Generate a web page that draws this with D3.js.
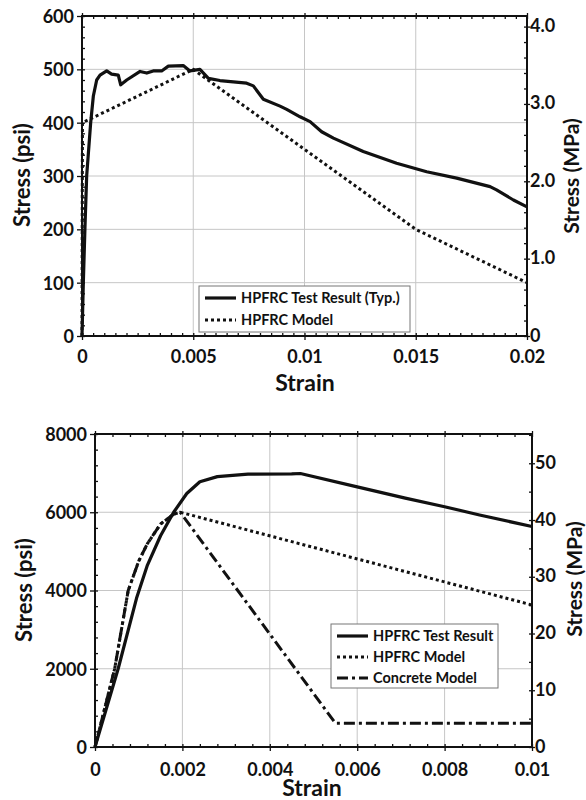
<!DOCTYPE html>
<html>
<head>
<style>
  body { margin: 0; background: #fff; }
  svg text { font-family: Lato, "Open Sans", sans-serif; font-weight: 700; fill: #111; }
  .tick text { font-size: 18px; }
  .axis line { stroke: #111; stroke-width: 1.3; }
  .grid line { stroke: #c6c6c6; stroke-width: 1; }
  .legend text { font-size: 14.5px; font-weight: 700; }
  .title { font-size: 22px; text-anchor: middle; }
</style>
<script src="https://d3js.org/d3.v7.min.js"></script>
</head>
<body>
<svg width="586" height="800"></svg>
<script>
var PSI_TO_MPA = 0.0068948;

// ---- top chart (tension) ----
var topTestStrain = [0, 0.00006, 0.00013, 0.00021, 0.00039, 0.00051, 0.00066, 0.00081, 0.00111, 0.00133,
  0.00163, 0.00174, 0.00201, 0.00261, 0.00291, 0.0032, 0.00358, 0.00388, 0.00455, 0.00485, 0.0053,
  0.00568, 0.0062, 0.0074, 0.0077, 0.00815, 0.0089, 0.0092, 0.0098, 0.01025, 0.01077, 0.0113, 0.01264,
  0.01414, 0.01549, 0.01684, 0.01834, 0.01863, 0.01939, 0.02];
var topTestStress = [0, 100, 200, 300, 400, 450, 480, 489, 497, 491,
  489, 471, 480, 496, 493, 497, 497, 506, 507, 497, 500,
  483, 479, 474, 469, 444, 431, 425, 411, 402, 383, 371, 346,
  324, 308, 296, 280, 274, 255, 242];
var topModelStrain = [0, 0.00002, 0.005, 0.015, 0.02];
var topModelStress = [0, 400, 500, 200, 100];
var topXTicks = [0, 0.005, 0.01, 0.015, 0.02];
var topXTickLabels = ["0", "0.005", "0.01", "0.015", "0.02"];
var topYTicks = [0, 100, 200, 300, 400, 500, 600];
var topYTickLabels = ["0", "100", "200", "300", "400", "500", "600"];
var topMpaTicks = [0, 1, 2, 3, 4];
var topMpaTickLabels = ["0", "1.0", "2.0", "3.0", "4.0"];
var topLegend = ["HPFRC Test Result (Typ.)", "HPFRC Model"];

// ---- bottom chart (compression) ----
var botTestStrain = [0, 0.00053, 0.00095, 0.0012, 0.0015, 0.0018, 0.0021, 0.0024, 0.0028, 0.0035,
  0.0045, 0.0047, 0.006, 0.0071, 0.008, 0.0088, 0.01];
var botTestStress = [0, 2000, 3800, 4650, 5400, 6000, 6480, 6780, 6910, 6975,
  6980, 6990, 6650, 6360, 6140, 5930, 5635];
var botModelStrain = [0, 0.00045, 0.00076, 0.001, 0.0012, 0.0015, 0.0018, 0.00195, 0.01];
var botModelStress = [0, 2000, 4000, 4750, 5200, 5700, 5950, 6000, 3630];
var concreteStrain = [0, 0.00045, 0.00076, 0.001, 0.0012, 0.0015, 0.0018, 0.00195, 0.0055, 0.01];
var concreteStress = [0, 2000, 4000, 4750, 5200, 5700, 5950, 6000, 610, 610];
var botXTicks = [0, 0.002, 0.004, 0.006, 0.008, 0.01];
var botXTickLabels = ["0", "0.002", "0.004", "0.006", "0.008", "0.01"];
var botYTicks = [0, 2000, 4000, 6000, 8000];
var botYTickLabels = ["0", "2000", "4000", "6000", "8000"];
var botMpaTicks = [0, 10, 20, 30, 40, 50];
var botMpaTickLabels = ["0", "10", "20", "30", "40", "50"];
var botLegend = ["HPFRC Test Result", "HPFRC Model", "Concrete Model"];

var styles = {
  solid: { width: 3.2, dash: null },
  dot: { width: 3, dash: "3,3" },
  dashdot: { width: 3, dash: "11,4,3,4" }
};

var svg = d3.select("svg");

function zip(xs, ys) {
  return xs.map(function (v, i) { return [v, ys[i]]; });
}

function chart(c) {
  var x = d3.scaleLinear().domain(c.xDomain).range([c.left, c.right]);
  var y = d3.scaleLinear().domain(c.yDomain).range([c.bottom, c.top]);
  var y2 = d3.scaleLinear().domain([0, c.yDomain[1] * PSI_TO_MPA]).range([c.bottom, c.top]);
  var g = svg.append("g");

  // grid
  var grid = g.append("g").attr("class", "grid");
  grid.selectAll(".gx").data(c.xTicks.slice(1, -1)).enter().append("line")
    .attr("x1", x).attr("x2", x).attr("y1", c.top).attr("y2", c.bottom);
  grid.selectAll(".gy").data(c.yTicks.slice(1, -1)).enter().append("line")
    .attr("y1", y).attr("y2", y).attr("x1", c.left).attr("x2", c.right);

  // minor ticks
  var xMinor = d3.range(c.xDomain[0], c.xDomain[1] + 1e-9, c.xMinor);
  var yMinor = d3.range(c.yDomain[0], c.yDomain[1] + 1e-9, c.yMinor);
  var mMinor = d3.range(0, y2.domain()[1], c.mMinor);
  g.append("g").attr("class", "axis").attr("transform", "translate(0," + c.bottom + ")")
    .call(d3.axisBottom(x).tickValues(xMinor).tickSize(-3).tickFormat(""));
  g.append("g").attr("class", "axis").attr("transform", "translate(0," + c.top + ")")
    .call(d3.axisTop(x).tickValues(xMinor).tickSize(-3).tickFormat(""));
  g.append("g").attr("class", "axis").attr("transform", "translate(" + c.left + ",0)")
    .call(d3.axisLeft(y).tickValues(yMinor).tickSize(-3).tickFormat(""));
  g.append("g").attr("class", "axis").attr("transform", "translate(" + c.right + ",0)")
    .call(d3.axisRight(y2).tickValues(mMinor).tickSize(-3).tickFormat(""));

  // major ticks and labels
  g.append("g").attr("class", "axis").attr("transform", "translate(0," + c.top + ")")
    .call(d3.axisTop(x).tickValues(c.xTicks).tickSize(3).tickFormat(""));
  g.append("g").attr("class", "axis").attr("transform", "translate(" + c.left + ",0)")
    .call(d3.axisLeft(y).tickValues(c.yTicks).tickSize(5).tickPadding(3)
      .tickFormat(function (d, i) { return c.yLabels[i]; }));
  g.append("g").attr("class", "axis y2").attr("transform", "translate(" + c.right + ",0)")
    .call(d3.axisRight(y2).tickValues(c.mTicks).tickSize(3).tickPadding(0)
      .tickFormat(function (d, i) { return c.mLabels[i]; }));
  g.selectAll(".axis text").attr("dy", "0.36em");
  g.selectAll(".y2 text").attr("dy", "0.28em");
  // bottom axis keeps d3's default baseline offset
  g.append("g").attr("class", "axis").attr("transform", "translate(0," + c.bottom + ")")
    .call(d3.axisBottom(x).tickValues(c.xTicks).tickSize(4).tickPadding(c.xPad)
      .tickFormat(function (d, i) { return c.xLabels[i]; }));
  g.selectAll(".axis .domain").remove();

  // frame
  g.append("rect").attr("x", c.left).attr("y", c.top)
    .attr("width", c.right - c.left).attr("height", c.bottom - c.top)
    .attr("fill", "none").attr("stroke", "#111").attr("stroke-width", 2);

  // series
  var line = d3.line().x(function (d) { return x(d[0]); }).y(function (d) { return y(d[1]); });
  c.series.forEach(function (s) {
    var st = styles[s.style];
    g.append("path").attr("d", line(s.data)).attr("fill", "none")
      .attr("stroke", "#111").attr("stroke-width", st.width)
      .attr("stroke-dasharray", st.dash).attr("stroke-linejoin", "round");
  });

  // legend
  var lg = g.append("g").attr("class", "legend");
  lg.append("rect").attr("x", c.legend.x).attr("y", c.legend.y)
    .attr("width", c.legend.w).attr("height", c.legend.h)
    .attr("fill", "#fff").attr("stroke", "#777").attr("stroke-width", 1);
  c.series.forEach(function (s, i) {
    var st = styles[s.style];
    var ly = c.legend.y + c.legend.first + i * c.legend.step;
    lg.append("line").attr("x1", c.legend.x + 6).attr("x2", c.legend.x + 37)
      .attr("y1", ly).attr("y2", ly).attr("stroke", "#111")
      .attr("stroke-width", st.width).attr("stroke-dasharray", st.dash);
    lg.append("text").attr("x", c.legend.x + 42).attr("y", ly).attr("dy", "0.35em")
      .text(s.name);
  });

  // axis titles
  g.append("text").attr("class", "title")
    .attr("transform", "translate(" + c.ylab[0] + "," + c.ylab[1] + ") rotate(-90)")
    .attr("dy", "0.35em").text("Stress (psi)");
  g.append("text").attr("class", "title").style("font-size", "21px")
    .attr("transform", "translate(" + c.mlab[0] + "," + c.mlab[1] + ") rotate(-90)")
    .attr("dy", "0.35em").text("Stress (MPa)");
  g.append("text").attr("class", "title").style("font-size", "23px")
    .attr("x", c.xlab[0]).attr("y", c.xlab[1]).text("Strain");
}

chart({
  left: 82, right: 527, top: 16, bottom: 336,
  xDomain: [0, 0.02], yDomain: [0, 600],
  xTicks: topXTicks, xLabels: topXTickLabels, yTicks: topYTicks, yLabels: topYTickLabels,
  mTicks: topMpaTicks, mLabels: topMpaTickLabels,
  xMinor: 0.0005, yMinor: 20, mMinor: 0.2, xPad: 10,
  series: [
    { name: topLegend[0], style: "solid", data: zip(topTestStrain, topTestStress) },
    { name: topLegend[1], style: "dot", data: zip(topModelStrain, topModelStress) }
  ],
  legend: { x: 199, y: 286, w: 211, h: 46, first: 12, step: 22 },
  ylab: [22, 175], mlab: [572, 176], xlab: [305, 391]
});

chart({
  left: 95, right: 532, top: 434, bottom: 747,
  xDomain: [0, 0.01], yDomain: [0, 8000],
  xTicks: botXTicks, xLabels: botXTickLabels, yTicks: botYTicks, yLabels: botYTickLabels,
  mTicks: botMpaTicks, mLabels: botMpaTickLabels,
  xMinor: 0.0004, yMinor: 400, mMinor: 5, xPad: 12,
  series: [
    { name: botLegend[0], style: "solid", data: zip(botTestStrain, botTestStress) },
    { name: botLegend[1], style: "dot", data: zip(botModelStrain, botModelStress) },
    { name: botLegend[2], style: "dashdot", data: zip(concreteStrain, concreteStress) }
  ],
  legend: { x: 331, y: 624, w: 167, h: 64, first: 12, step: 21 },
  ylab: [24, 590], mlab: [575, 579], xlab: [312, 796]
});
</script>
</body>
</html>
